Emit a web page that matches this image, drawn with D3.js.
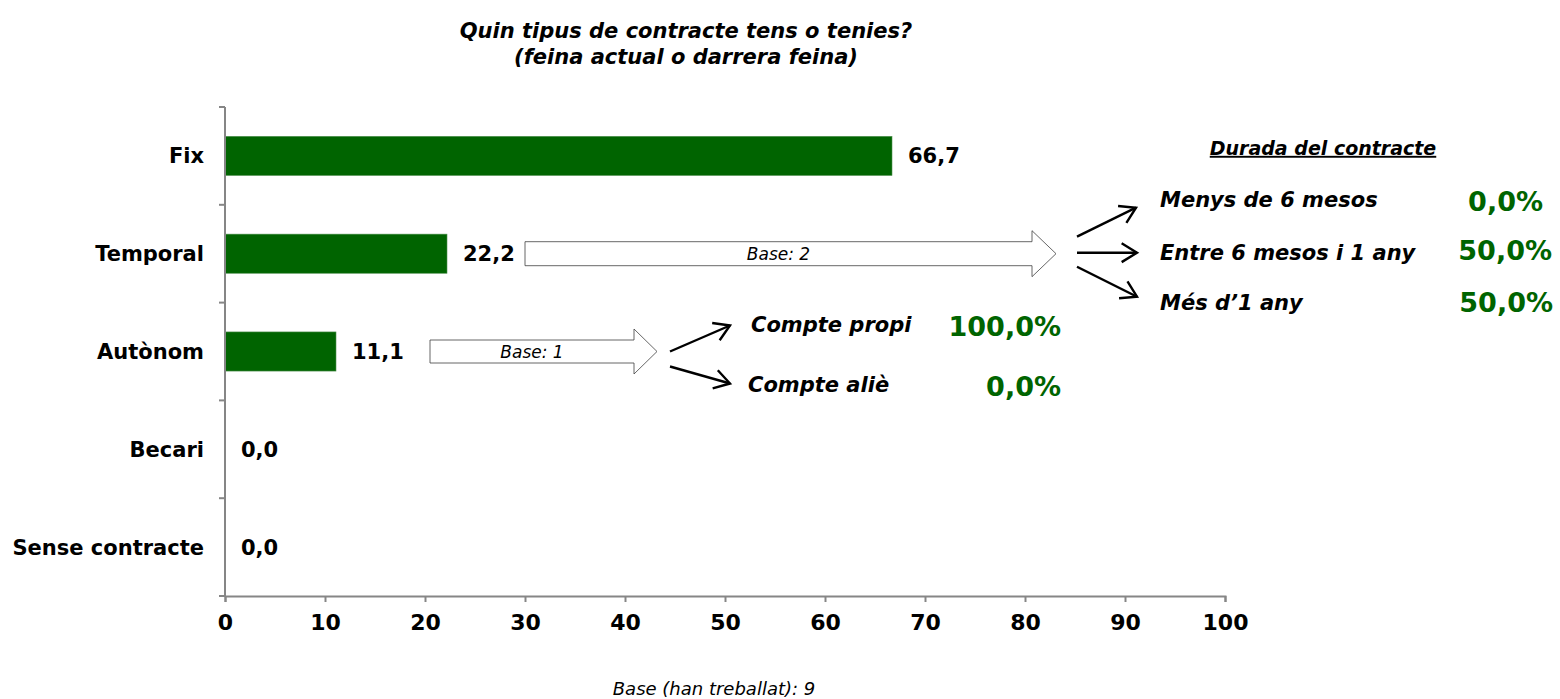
<!DOCTYPE html>
<html>
<head>
<meta charset="utf-8">
<script src="https://cdn.jsdelivr.net/npm/d3@7"></script>
<style>
  html, body { margin: 0; padding: 0; background: #fff; }
  svg text { font-family: "DejaVu Sans", Verdana, sans-serif; }
</style>
</head>
<body>
<div id="chart"></div>
<script>
// Data
const categories = ["Fix", "Temporal", "Autònom", "Becari", "Sense contracte"];
const values = [66.7, 22.2, 11.1, 0.0, 0.0];
const xTicks = [0, 10, 20, 30, 40, 50, 60, 70, 80, 90, 100];

const autonomLabels = ["Compte propi", "Compte aliè"];
const autonomValues = [100.0, 0.0];
const autonomBase = 1;

const durationLabels = ["Menys de 6 mesos", "Entre 6 mesos i 1 any", "Més d’1 any"];
const durationValues = [0.0, 50.0, 50.0];
const durationBase = 2;

const totalBase = 9;

// Layout
const WIDTH = 1560, HEIGHT = 699;
const margin = { top: 107, left: 225, right: 335, bottom: 103 };
const GREEN = "#006400";
const AXIS = "#868686";
const fmt = (v) => v.toFixed(1).replace(".", ",");

const svg = d3.select("#chart").append("svg")
  .attr("width", WIDTH)
  .attr("height", HEIGHT);

const x = d3.scaleLinear()
  .domain([0, 100])
  .range([margin.left, WIDTH - margin.right]);

const y = d3.scaleBand()
  .domain(categories)
  .range([margin.top, HEIGHT - margin.bottom])
  .paddingInner(0.6)
  .paddingOuter(0.3);

// Title
const title = svg.append("text")
  .attr("x", 686)
  .attr("y", 38)
  .attr("text-anchor", "middle")
  .attr("font-size", 21)
  .attr("font-weight", "bold")
  .attr("font-style", "italic");
title.append("tspan").attr("x", 686).text("Quin tipus de contracte tens o tenies?");
title.append("tspan").attr("x", 686).attr("dy", 26).text("(feina actual o darrera feina)");

// Bars
svg.append("g").selectAll("rect")
  .data(values)
  .join("rect")
  .attr("x", x(0))
  .attr("y", (d, i) => y(categories[i]))
  .attr("width", (d) => x(d) - x(0))
  .attr("height", y.bandwidth())
  .attr("fill", GREEN)
  .attr("stroke", "#4f8f4f")
  .attr("stroke-width", 0.6);

// Value labels
svg.append("g").selectAll("text")
  .data(values)
  .join("text")
  .attr("x", (d) => x(d) + 16)
  .attr("y", (d, i) => y(categories[i]) + y.bandwidth() / 2)
  .attr("dy", "0.36em")
  .attr("font-size", 21)
  .attr("font-weight", "bold")
  .text((d) => fmt(d));

// Y axis (ticks at band boundaries)
const yAxisG = svg.append("g");
yAxisG.append("line")
  .attr("x1", x(0)).attr("x2", x(0))
  .attr("y1", margin.top).attr("y2", HEIGHT - margin.bottom)
  .attr("stroke", AXIS).attr("stroke-width", 2);
const step = y.step();
const boundaries = d3.range(categories.length + 1).map((i) => margin.top + i * step);
yAxisG.selectAll("line.tick")
  .data(boundaries)
  .join("line")
  .attr("class", "tick")
  .attr("x1", x(0) - 6).attr("x2", x(0))
  .attr("y1", (d) => d).attr("y2", (d) => d)
  .attr("stroke", AXIS).attr("stroke-width", 2);
yAxisG.selectAll("text")
  .data(categories)
  .join("text")
  .attr("x", x(0) - 21)
  .attr("y", (d) => y(d) + y.bandwidth() / 2)
  .attr("dy", "0.36em")
  .attr("text-anchor", "end")
  .attr("font-size", 21)
  .attr("font-weight", "bold")
  .text((d) => d);

// X axis
const xAxisG = svg.append("g")
  .attr("transform", `translate(0,${HEIGHT - margin.bottom})`)
  .call(d3.axisBottom(x).tickValues(xTicks).tickSize(6).tickPadding(12).tickFormat(d3.format("d")));
xAxisG.select(".domain").attr("stroke", AXIS).attr("stroke-width", 2);
xAxisG.selectAll(".tick line").attr("stroke", AXIS).attr("stroke-width", 2);
xAxisG.selectAll(".tick text")
  .attr("font-size", 22)
  .attr("font-weight", "bold")
  .attr("fill", "#000")
  .attr("font-family", "DejaVu Sans, Verdana, sans-serif");

// Block arrow helper
function blockArrow(x0, x1, yc, bodyH, headH, headW, label) {
  const g = svg.append("g");
  const b = bodyH / 2, h = headH / 2;
  g.append("path")
    .attr("d", `M${x0},${yc - b} L${x1 - headW},${yc - b} L${x1 - headW},${yc - h} L${x1},${yc} L${x1 - headW},${yc + h} L${x1 - headW},${yc + b} L${x0},${yc + b} Z`)
    .attr("fill", "#fff")
    .attr("stroke", "#404040")
    .attr("stroke-width", 0.8);
  g.append("text")
    .attr("x", (x0 + x1 - headW) / 2)
    .attr("y", yc)
    .attr("dy", "0.36em")
    .attr("text-anchor", "middle")
    .attr("font-size", 17)
    .attr("font-style", "italic")
    .text(label);
}

// Line arrow helper
function lineArrow(x0, y0, x1, y1) {
  const g = svg.append("g");
  const ang = Math.atan2(y1 - y0, x1 - x0);
  const L = 18, A = 0.55;
  g.append("line")
    .attr("x1", x0).attr("y1", y0).attr("x2", x1).attr("y2", y1)
    .attr("stroke", "#000").attr("stroke-width", 2.4);
  g.append("path")
    .attr("d", `M${x1 - L * Math.cos(ang - A)},${y1 - L * Math.sin(ang - A)} L${x1},${y1} L${x1 - L * Math.cos(ang + A)},${y1 - L * Math.sin(ang + A)}`)
    .attr("fill", "none")
    .attr("stroke", "#000").attr("stroke-width", 2.4);
}

// Autònom breakdown
const yA = y("Autònom") + y.bandwidth() / 2;
blockArrow(x(20.5), x(43.2), yA, 23, 45, 23, `Base: ${autonomBase}`);
const autY = [yA - 27, yA + 33];
lineArrow(x(44.5), yA, x(50.5), autY[0] + 1);
lineArrow(x(44.5), yA + 15, x(50.5), autY[1] - 1);
svg.append("g").selectAll("text")
  .data(autonomLabels)
  .join("text")
  .attr("x", (d, i) => x(52.6) - i * 3)
  .attr("y", (d, i) => autY[i])
  .attr("dy", "0.36em")
  .attr("font-size", 21)
  .attr("font-weight", "bold")
  .attr("font-style", "italic")
  .text((d) => d);
svg.append("g").selectAll("text")
  .data(autonomValues)
  .join("text")
  .attr("x", x(83.6))
  .attr("y", (d, i) => autY[i] + 2)
  .attr("dy", "0.36em")
  .attr("text-anchor", "end")
  .attr("font-size", 27)
  .attr("font-weight", "bold")
  .attr("fill", GREEN)
  .text((d) => fmt(d) + "%");

// Temporal breakdown
const yT = y("Temporal") + y.bandwidth() / 2;
blockArrow(x(30), x(83.1), yT, 24, 46, 24, `Base: ${durationBase}`);
const durY = [yT - 54, yT - 1, yT + 49];
lineArrow(x(85.2), yT - 17, x(91.1), yT - 46);
lineArrow(x(85.2), yT - 1, x(91.2), yT - 1);
lineArrow(x(85.2), yT + 13, x(91.2), yT + 43);
svg.append("text")
  .attr("x", 1323)
  .attr("y", 148)
  .attr("dy", "0.36em")
  .attr("text-anchor", "middle")
  .attr("font-size", 19)
  .attr("font-weight", "bold")
  .attr("font-style", "italic")
  .attr("text-decoration", "underline")
  .text("Durada del contracte");
svg.append("g").selectAll("text")
  .data(durationLabels)
  .join("text")
  .attr("x", x(93.5))
  .attr("y", (d, i) => durY[i])
  .attr("dy", "0.36em")
  .attr("font-size", 21)
  .attr("font-weight", "bold")
  .attr("font-style", "italic")
  .text((d) => d);
svg.append("g").selectAll("text")
  .data(durationValues)
  .join("text")
  .attr("x", (d, i) => [1543, 1552, 1553][i])
  .attr("y", (d, i) => durY[i] + [2, -2, 0][i])
  .attr("dy", "0.36em")
  .attr("text-anchor", "end")
  .attr("font-size", 27)
  .attr("font-weight", "bold")
  .attr("fill", GREEN)
  .text((d) => fmt(d) + "%");

// Footer
svg.append("text")
  .attr("x", 714)
  .attr("y", 689)
  .attr("dy", "0.36em")
  .attr("text-anchor", "middle")
  .attr("font-size", 18)
  .attr("font-style", "italic")
  .text(`Base (han treballat): ${totalBase}`);
</script>
</body>
</html>
